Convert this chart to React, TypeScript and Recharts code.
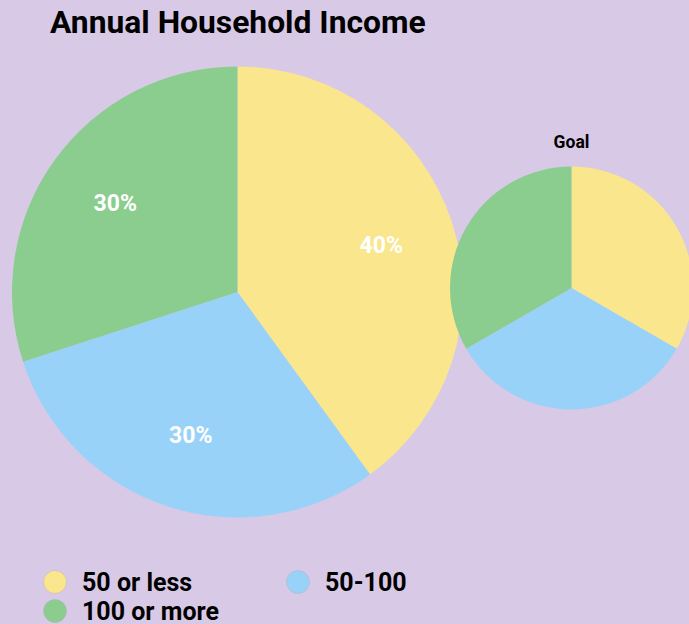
import React from 'react';
import { PieChart, Pie, Cell } from 'recharts';

const categories = ['50 or less', '50-100', '100 or more'];
const currentValues = [40, 30, 30];
const goalValues = [33.3, 33.3, 33.3];
const colors = ['#F9E68D', '#99D2F9', '#8BCD8E'];
const title = 'Annual Household Income';
const goalTitle = 'Goal';

const currentData = categories.map((name, i) => ({ name, value: currentValues[i] }));
const goalData = categories.map((name, i) => ({ name, value: goalValues[i] }));

const RADIAN = Math.PI / 180;
const FONT = 'Roboto, "Noto Sans", sans-serif';

const renderLabel = (props: any) => {
  const { cx, cy, midAngle, outerRadius, percent } = props;
  const r = outerRadius * 0.67;
  const x = cx + r * Math.cos(-midAngle * RADIAN);
  const y = cy + r * Math.sin(-midAngle * RADIAN);
  return (
    <text
      x={x}
      y={y}
      fill="#ffffff"
      textAnchor="middle"
      dominantBaseline="central"
      fontFamily={FONT}
      fontWeight={700}
      fontSize={23}
    >
      {`${Math.round(percent * 100)}%`}
    </text>
  );
};

const legendPos = [
  { x: 55, y: 582 },
  { x: 298, y: 582 },
  { x: 55, y: 611 },
];

export default function App() {
  return (
    <div
      style={{
        position: 'fixed',
        left: 0,
        top: 0,
        width: 689,
        height: 624,
        background: '#D8C9E6',
        overflow: 'hidden',
      }}
    >
      <div style={{ position: 'absolute', left: 0, top: 0 }}>
        <PieChart width={689} height={624} margin={{ top: 0, right: 0, bottom: 0, left: 0 }}>
          <Pie
            data={currentData}
            dataKey="value"
            nameKey="name"
            cx={237.5}
            cy={292}
            outerRadius={225.5}
            startAngle={90}
            endAngle={-270}
            stroke="none"
            label={renderLabel}
            labelLine={false}
            isAnimationActive={false}
          >
            {currentData.map((d, i) => (
              <Cell key={d.name} fill={colors[i]} />
            ))}
          </Pie>
          <Pie
            data={goalData}
            dataKey="value"
            nameKey="name"
            cx={571.5}
            cy={288}
            outerRadius={121.5}
            startAngle={90}
            endAngle={-270}
            stroke="none"
            isAnimationActive={false}
          >
            {goalData.map((d, i) => (
              <Cell key={d.name} fill={colors[i]} />
            ))}
          </Pie>
        </PieChart>
      </div>
      <svg
        width={689}
        height={624}
        style={{ position: 'absolute', left: 0, top: 0, pointerEvents: 'none' }}
      >
        <text x={50} y={33} fontFamily={FONT} fontWeight={700} fontSize={31.8} fill="#000">
          {title}
        </text>
        <text
          x={571.5}
          y={148}
          textAnchor="middle"
          fontFamily={FONT}
          fontWeight={700}
          fontSize={17.5}
          fill="#000"
        >
          {goalTitle}
        </text>
        {categories.map((c, i) => (
          <g key={c}>
            <circle cx={legendPos[i].x} cy={legendPos[i].y} r={11.5} fill={colors[i]} stroke="#b9b0c2" strokeWidth={0.5} />
            <text
              x={legendPos[i].x + 27}
              y={legendPos[i].y + 9}
              fontFamily={FONT}
              fontWeight={700}
              fontSize={25}
              fill="#000"
            >
              {c}
            </text>
          </g>
        ))}
      </svg>
    </div>
  );
}
